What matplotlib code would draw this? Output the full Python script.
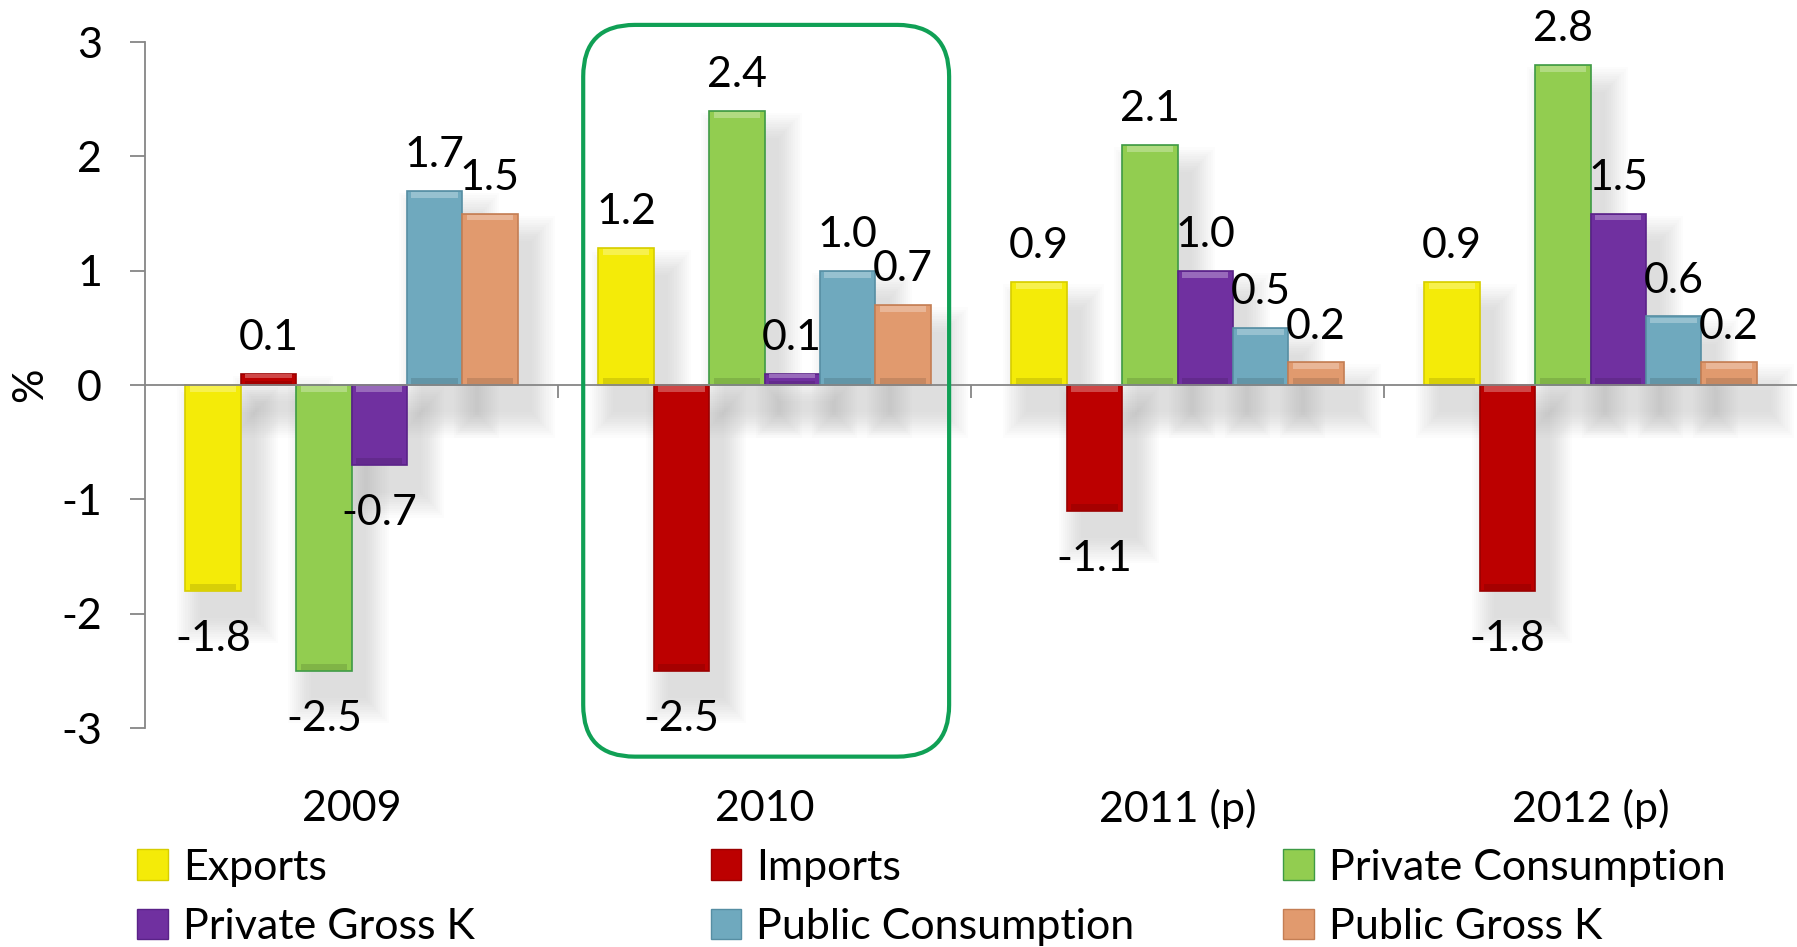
import numpy as np
import matplotlib
matplotlib.use("Agg")
import matplotlib.pyplot as plt
import matplotlib.transforms as mtrans
from matplotlib.patches import FancyBboxPatch, Patch
from matplotlib.colors import to_rgb

plt.rcParams['font.family'] = ['Lato', 'DejaVu Sans']

years = ['2009', '2010', '2011 (p)', '2012 (p)']
series = ['Exports', 'Imports', 'Private Consumption',
          'Private Gross K', 'Public Consumption', 'Public Gross K']
exports = [-1.8, 1.2, 0.9, 0.9]
imports = [0.1, -2.5, -1.1, -1.8]
priv_cons = [-2.5, 2.4, 2.1, 2.8]
priv_gk = [-0.7, 0.1, 1.0, 1.5]
pub_cons = [1.7, 1.0, 0.5, 0.6]
pub_gk = [1.5, 0.7, 0.2, 0.2]
values = [exports, imports, priv_cons, priv_gk, pub_cons, pub_gk]
colors = ['#F4EB08', '#BC0000', '#92CD50', '#7030A0', '#6FA9BE', '#E19A6E']
edges = ['#D6CD00', '#9A0000', '#3E9A45', '#5A2288', '#568EA3', '#C47E54']


def mix(c, t, f):
    a = np.array(to_rgb(c))
    b = np.array(to_rgb(t))
    return tuple(a + (b - a) * f)


fig = plt.figure(figsize=(17.97, 9.47), dpi=100)
ax = fig.add_axes([0.0807, 0.2312, 0.9193, 0.7244])

x = np.arange(len(years))
w = 0.134
fs = 31

# soft drop shadows
K = 12
for j, vals in enumerate(values):
    xs = x + (j - 2.5) * w
    for k in range(K):
        e = k / K
        ex = 0.06 * e
        ey = 0.24 * e
        lo = np.array([min(0, v) for v in vals]) - 0.24 - ey
        hi = np.array([max(0, v) for v in vals]) - 0.24 + ey
        ax.bar(xs + 0.035, hi - lo, bottom=lo, width=w + 2 * ex,
               color='#808080', alpha=0.02, linewidth=0, zorder=1)

for j, vals in enumerate(values):
    xs = x + (j - 2.5) * w
    ax.bar(xs, vals, width=w, color=colors[j], edgecolor=edges[j],
           linewidth=1.2, zorder=3, label=series[j])
    # bevel: light strip on the upper end, dark strip on the lower end
    top = np.array([max(0, v) for v in vals])
    bot = np.array([min(0, v) for v in vals])
    hgt = np.minimum(0.05, (top - bot) * 0.3)
    ax.bar(xs, hgt, bottom=top - hgt * 1.2, width=w * 0.84,
           color=mix(colors[j], '#ffffff', 0.28), linewidth=0, zorder=3.5)
    ax.bar(xs, hgt, bottom=bot + hgt * 0.2, width=w * 0.84,
           color=mix(colors[j], '#000000', 0.12), linewidth=0, zorder=3.5)
    for xi, v in zip(xs, vals):
        if v >= 0:
            ax.annotate(f'{v:.1f}', (xi, v), xytext=(0, 12), textcoords='offset points',
                        ha='center', va='bottom', fontsize=fs, zorder=5,
                        annotation_clip=False)
        else:
            ax.annotate(f'{v:.1f}', (xi, v), xytext=(0, -21), textcoords='offset points',
                        ha='center', va='top', fontsize=fs, zorder=5,
                        annotation_clip=False)

ax.set_xlim(-0.5, 3.5)
ax.set_ylim(-3, 3)
ax.set_yticks([-3, -2, -1, 0, 1, 2, 3])
ax.set_yticklabels(['-3', '-2', '-1', '0', '1', '2', '3'])
ax.tick_params(axis='y', labelsize=fs, length=11, width=1.3, color='#868686', pad=20)
ax.set_ylabel('%', fontsize=fs)
ax.yaxis.set_label_coords(-0.058, 0.5)

for s in ['top', 'right']:
    ax.spines[s].set_visible(False)
ax.spines['left'].set_color('#868686')
ax.spines['left'].set_linewidth(1.3)
ax.spines['bottom'].set_position(('data', 0))
ax.spines['bottom'].set_color('#868686')
ax.spines['bottom'].set_linewidth(1.3)
ax.spines['bottom'].set_zorder(4)
ax.set_xticks([0.5, 1.5, 2.5])
ax.set_xticklabels([])
ax.tick_params(axis='x', length=9, width=1.3, color='#868686')

trans = mtrans.blended_transform_factory(ax.transData, fig.transFigure)
for xi, yl in zip(x, years):
    ax.text(xi, 1 - 809 / 947, yl, transform=trans, ha='center', va='center', fontsize=fs)

box = FancyBboxPatch((0.561, -3.25), 0.886, 6.4,
                     boxstyle='round,pad=0,rounding_size=0.125', mutation_aspect=3.61,
                     facecolor='none', edgecolor='#10A055', linewidth=3,
                     clip_on=False, zorder=6)
ax.add_patch(box)

handles = [Patch(facecolor=colors[j], edgecolor=edges[j]) for j in range(6)]
cols_x = [0.0765, 0.3954, 0.7142]
for c in range(3):
    hs = [handles[c], handles[c + 3]]
    ls = [series[c], series[c + 3]]
    fig.legend(hs, ls, loc='upper left', bbox_to_anchor=(cols_x[c], 0.104),
               frameon=False, fontsize=fs, borderpad=0, borderaxespad=0,
               handlelength=0.7, handleheight=0.7, handletextpad=0.35,
               labelspacing=0.5)

fig.savefig('out.png', dpi=100)
